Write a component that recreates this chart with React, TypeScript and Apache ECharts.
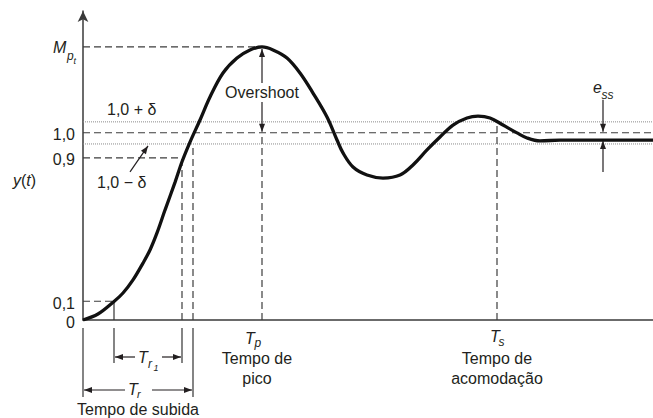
import React, { useEffect, useRef } from "react";
import * as echarts from "echarts";

// Step response curve (t in arbitrary time units, y normalised)
const curveT = [0, 0.3, 0.62, 0.8, 1.0, 1.2, 1.34, 1.48, 1.64, 1.84, 1.98, 2.14, 2.34, 2.54, 2.8, 3.08, 3.34, 3.58, 3.8, 4.08, 4.34, 4.6, 4.88, 5.08, 5.2, 5.4, 5.68, 6.0, 6.34, 6.6, 6.88, 7.14, 7.4, 7.68, 7.9, 8.14, 8.4, 8.68, 8.88, 9.14, 9.54, 11.4];
const curveY = [0, 0.032, 0.099, 0.144, 0.214, 0.304, 0.374, 0.465, 0.587, 0.735, 0.845, 0.95, 1.068, 1.191, 1.319, 1.399, 1.442, 1.458, 1.442, 1.399, 1.319, 1.212, 1.084, 0.961, 0.892, 0.817, 0.774, 0.758, 0.774, 0.828, 0.908, 0.977, 1.041, 1.079, 1.089, 1.079, 1.041, 0.999, 0.972, 0.956, 0.961, 0.961];

// Characteristic times
const keyTimes = { ten: 0.62, ninety: 1.98, rise: 2.2, peak: 3.58, settle: 8.28, ess: 10.4 };
// Characteristic levels (as drawn)
const levels = { ten: 0.1, ninety: 0.866, lower: 0.94, one: 1.0, upper: 1.058, peak: 1.458, steady: 0.961, settleY: 1.056 };

// Y tick labels and their levels
const yTickLabels = ["0", "0,1", "0,9", "1,0"];
const yTickValues = [0, levels.ten, levels.ninety, levels.one];

const X_MAX = 11.4;
const Y_MAX = 1.65;
const FONT = '"Liberation Sans", Arial, Helvetica, sans-serif';
const INK = "#231f20";

export default function App() {
  const ref = useRef<HTMLDivElement>(null);
  useEffect(() => {
    document.body.style.margin = "0";
    const chart = echarts.init(ref.current!, null, { renderer: "svg" });

    const dashed = { color: "#3d3d3d", width: 1.2, type: [7, 4] as any };
    const dotted = { color: "#8a8a8a", width: 1, type: [1, 1] as any };
    const solid = { color: "#333", width: 1.2, type: "solid" as any };
    const seg = (pts: number[][], ls: any) => ({
      type: "line",
      data: pts,
      symbol: "none",
      clip: false,
      silent: true,
      lineStyle: ls,
      z: 1,
    });

    const B1 = -0.043, B2 = -0.23, B3 = -0.411;
    const series: any[] = [
      seg([[0, levels.peak], [keyTimes.peak, levels.peak]], dashed),
      seg([[0, levels.one], [X_MAX, levels.one]], dashed),
      seg([[0, levels.upper], [X_MAX, levels.upper]], dotted),
      seg([[0, levels.lower], [X_MAX, levels.lower]], dotted),
      seg([[0, levels.ninety], [keyTimes.ninety, levels.ninety]], dashed),
      seg([[0, levels.ten], [keyTimes.ten, levels.ten]], dashed),
      seg([[keyTimes.ten, 0], [keyTimes.ten, levels.ten]], solid),
      seg([[keyTimes.ninety, 0], [keyTimes.ninety, levels.ninety]], dashed),
      seg([[keyTimes.rise, 0], [keyTimes.rise, levels.lower]], dashed),
      seg([[keyTimes.peak, 0], [keyTimes.peak, levels.one]], dashed),
      seg([[keyTimes.settle, 0], [keyTimes.settle, levels.settleY]], dashed),
      seg([[0, B1], [0, B3]], solid),
      seg([[keyTimes.ten, B1], [keyTimes.ten, B2]], solid),
      seg([[keyTimes.ninety, B1], [keyTimes.ninety, B2]], solid),
      seg([[keyTimes.rise, B1], [keyTimes.rise, B3]], solid),
      {
        type: "line",
        data: curveT.map((t, i) => [t, curveY[i]]),
        symbol: "none",
        smooth: 0.35,
        silent: true,
        lineStyle: { color: "#111", width: 3.3 },
        z: 5,
      },
    ];

    chart.setOption({
      animation: false,
      grid: { left: 83, right: 0, top: 11, bottom: 98 },
      xAxis: {
        type: "value",
        min: 0,
        max: X_MAX,
        axisLine: { lineStyle: { color: "#3a3a3a", width: 1.5 } },
        axisTick: { show: false },
        axisLabel: { show: false },
        splitLine: { show: false },
      },
      yAxis: {
        type: "value",
        min: 0,
        max: Y_MAX,
        axisLine: {
          show: true,
          lineStyle: { color: "#3a3a3a", width: 1.5 },
          symbol: ["none", "arrow"],
          symbolSize: [8, 11],
        },
        axisTick: { show: false },
        axisLabel: { show: false },
        splitLine: { show: false },
      },
      series,
    });

    const P = (x: number, y: number) => chart.convertToPixel({ gridIndex: 0 }, [x, y]) as number[];

    const txt = (text: string, x: number, y: number, opts: any = {}) => ({
      type: "text",
      z: 10,
      style: {
        text,
        x,
        y,
        fill: INK,
        fontFamily: FONT,
        fontSize: opts.size ?? 16,
        fontStyle: opts.italic ? "italic" : "normal",
        align: opts.align ?? "left",
        verticalAlign: "middle",
      },
    });

    const head = (tx: number, ty: number, fx: number, fy: number) => {
      const dx = tx - fx, dy = ty - fy;
      const L = Math.hypot(dx, dy);
      const ux = dx / L, uy = dy / L;
      const bx = tx - ux * 8, by = ty - uy * 8;
      return {
        type: "polygon",
        z: 10,
        shape: { points: [[tx, ty], [bx - uy * 3, by + ux * 3], [bx + uy * 3, by - ux * 3]] },
        style: { fill: INK },
      };
    };
    const arrow = (x1: number, y1: number, x2: number, y2: number) => [
      { type: "line", z: 10, shape: { x1, y1, x2, y2 }, style: { stroke: INK, lineWidth: 1.2 } },
      head(x2, y2, x1, y1),
    ];

    const els: any[] = [];

    // Y tick labels
    yTickLabels.forEach((lab, i) => {
      const p = P(0, yTickValues[i]);
      els.push(txt(lab, p[0] - 8, p[1] + 2, { align: "right" }));
    });
    // M_p_t
    const pm = P(0, levels.peak);
    els.push(txt("M", pm[0] - 30, pm[1] + 1, { italic: true }));
    els.push(txt("p", pm[0] - 16, pm[1] + 9, { italic: true, size: 12 }));
    els.push(txt("t", pm[0] - 9.5, pm[1] + 14, { italic: true, size: 9 }));

    // y(t)
    els.push({
      type: "text",
      z: 10,
      style: {
        text: "{i|y}({i|t})",
        x: 13,
        y: 180,
        fill: INK,
        fontFamily: FONT,
        fontSize: 16,
        verticalAlign: "middle",
        rich: { i: { fontStyle: "italic", fontFamily: FONT, fontSize: 16, fill: INK } },
      },
    });

    // Band labels
    const pu = P(0, levels.upper);
    els.push(txt("1,0 + δ", pu[0] + 24, pu[1] - 12));
    const pl = P(0, levels.lower);
    els.push(txt("1,0 − δ", pl[0] + 14, pl[1] + 39));
    els.push(...arrow(pl[0] + 47, pl[1] + 28, pl[0] + 65, pl[1] + 2));

    // Overshoot
    const pp = P(keyTimes.peak, levels.peak);
    const po = P(keyTimes.peak, levels.one);
    els.push(txt("Overshoot", pp[0], 92, { align: "center" }));
    els.push(...arrow(pp[0], 83, pp[0], pp[1] + 2));
    els.push(...arrow(pp[0], 102, pp[0], po[1] - 1));

    // e_ss
    const pe1 = P(keyTimes.ess, levels.one);
    const pe2 = P(keyTimes.ess, levels.steady);
    els.push(txt("e", pe1[0] - 10, pe1[1] - 45, { italic: true }));
    els.push(txt("ss", pe1[0] - 1.5, pe1[1] - 38, { italic: true, size: 12 }));
    els.push(...arrow(pe1[0], pe1[1] - 33, pe1[0], pe1[1] - 1));
    els.push(...arrow(pe2[0], pe2[1] + 32, pe2[0], pe2[1] + 1));

    // T_p
    const ptp = P(keyTimes.peak, 0);
    els.push(txt("T", ptp[0] - 17, ptp[1] + 18, { italic: true }));
    els.push(txt("p", ptp[0] - 7.5, ptp[1] + 23, { italic: true, size: 12 }));
    els.push(txt("Tempo de", ptp[0] - 5, ptp[1] + 38, { align: "center" }));
    els.push(txt("pico", ptp[0] - 5, ptp[1] + 58, { align: "center" }));

    // T_s
    const pts = P(keyTimes.settle, 0);
    els.push(txt("T", pts[0] - 7, pts[1] + 16, { italic: true }));
    els.push(txt("s", pts[0] + 1.5, pts[1] + 22, { italic: true, size: 12 }));
    els.push(txt("Tempo de", pts[0], pts[1] + 38, { align: "center" }));
    els.push(txt("acomodação", pts[0], pts[1] + 58, { align: "center" }));

    // T_r1 bracket
    const a = P(keyTimes.ten, 0);
    const b = P(keyTimes.ninety, 0);
    const y1 = a[1] + 37;
    els.push(...arrow(a[0] + 21, y1, a[0] + 1, y1));
    els.push(...arrow(b[0] - 20, y1, b[0] - 1, y1));
    els.push(txt("T", a[0] + 24, y1, { italic: true }));
    els.push(txt("r", a[0] + 34, y1 + 7, { italic: true, size: 12 }));
    els.push(txt("1", a[0] + 39.5, y1 + 11, { italic: true, size: 9 }));

    // T_r bracket
    const o = P(0, 0);
    const c = P(keyTimes.rise, 0);
    const y2 = o[1] + 70;
    els.push(...arrow(o[0] + 42, y2, o[0] + 1, y2));
    els.push(...arrow(c[0] - 41, y2, c[0] - 1, y2));
    els.push(txt("T", o[0] + 45, y2 - 1, { italic: true }));
    els.push(txt("r", o[0] + 54, y2 + 4, { italic: true, size: 11 }));
    els.push(txt("Tempo de subida", (o[0] + c[0]) / 2, y2 + 19, { align: "center" }));

    chart.setOption({ graphic: els });
    return () => chart.dispose();
  }, []);
  return <div ref={ref} style={{ width: 653, height: 418 }} />;
}
